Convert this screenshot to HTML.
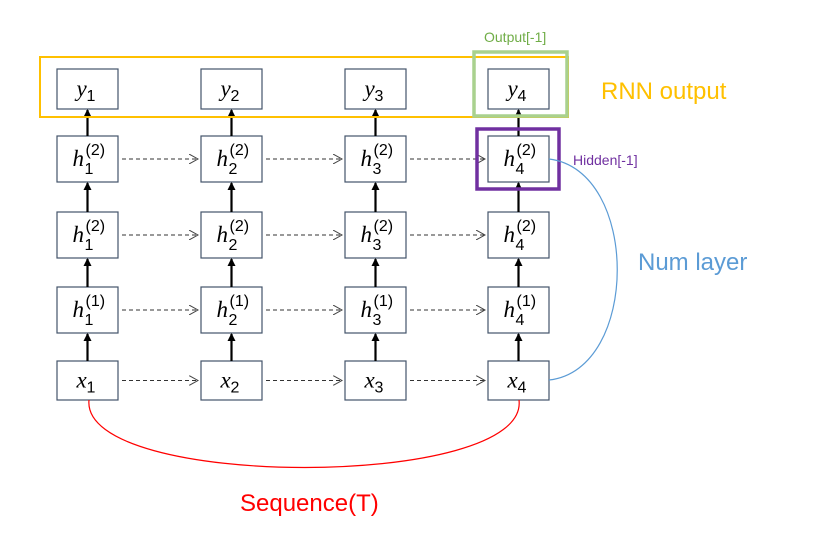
<!DOCTYPE html>
<html><head><meta charset="utf-8"><style>
html,body{margin:0;padding:0;background:#fff;}
svg text{font-family:"Liberation Sans","DejaVu Sans",sans-serif;}
.m{font-family:"Liberation Serif","DejaVu Serif",serif;font-style:italic;}
</style></head><body>
<svg width="827" height="548" viewBox="0 0 827 548" xmlns="http://www.w3.org/2000/svg">
<defs>
<marker id="ah" markerWidth="8" markerHeight="8" refX="7" refY="4" orient="auto" markerUnits="userSpaceOnUse"><path d="M0,0 L8,4 L0,8 Z" fill="#000"/></marker>
<marker id="oh" markerWidth="10" markerHeight="10" refX="9" refY="5" orient="auto" markerUnits="userSpaceOnUse"><path d="M0,0 L9,5 L0,10" fill="none" stroke="#444" stroke-width="1"/></marker>
</defs>
<g id="g"></g>
<rect x="40" y="57" width="528" height="60" fill="none" stroke="#FFC000" stroke-width="2"/>
<rect x="474" y="52" width="93" height="64" fill="none" stroke="#A9D18E" stroke-width="3.5"/>
<rect x="477" y="129" width="82" height="60" fill="none" stroke="#7030A0" stroke-width="3.5"/>
<text x="484" y="42" font-size="14" fill="#70AD47">Output[-1]</text>
<text x="573" y="165" font-size="14" fill="#7030A0">Hidden[-1]</text>
<text x="601" y="99" font-size="24" fill="#FFC000">RNN output</text>
<text x="638" y="270" font-size="24" fill="#5B9BD5">Num layer</text>
<text x="240" y="511" font-size="24" fill="#FF0000">Sequence(T)</text>
<path d="M549,159 C640,170 640,370 549,380" fill="none" stroke="#5B9BD5" stroke-width="1.2"/>
<path d="M89,400 C80,490 530,490 519,400" fill="none" stroke="#FF0000" stroke-width="1.2"/>
</svg>
<script>
const cols=[57,201,345,488];
const rows=[[69,109],[136,182],[212,258],[287,333],[361,400]];
const labels=[["y",""],["h","(2)"],["h","(2)"],["h","(1)"],["x",""]];
const g=document.getElementById('g');
const NS="http://www.w3.org/2000/svg";
function mk(t,a){const e=document.createElementNS(NS,t);for(const k in a)e.setAttribute(k,a[k]);g.appendChild(e);return e;}
const W=61;
rows.forEach((r,ri)=>{
 cols.forEach((c,ci)=>{
  const rc=mk('rect',{x:c,y:r[0],width:W,height:r[1]-r[0],fill:'#fff',stroke:'#44546A','stroke-width':1.2});
  
  
  const cy=(r[0]+r[1])/2;
  const t=mk('text',{x:c+W/2-(labels[ri][1]?15:11),y:cy+7,'font-size':23,class:'m'});
  t.textContent=labels[ri][0];
  
  
  const s=mk('text',{x:c+W/2-(labels[ri][1]?3:1),y:cy+(labels[ri][1]?15:12),'font-size':16});
  s.textContent=String(ci+1);
  
  
  if(labels[ri][1]){const p=mk('text',{x:c+W/2-2,y:cy-4,'font-size':16});p.textContent=labels[ri][1];
   
   }
  if(ci<3&&ri>0){const l=mk('line',{x1:c+W+4,y1:cy,x2:cols[ci+1]-3,y2:cy,stroke:'#333','stroke-width':1,'stroke-dasharray':'4,3','marker-end':'url(#oh)'});
   
   }
  if(ri>0){const a=mk('line',{x1:c+W/2,y1:r[0],x2:c+W/2,y2:rows[ri-1][1]+1,stroke:'#000','stroke-width':2.2,'marker-end':'url(#ah)'});
   
   }
 });
});
</script>
</body></html>
